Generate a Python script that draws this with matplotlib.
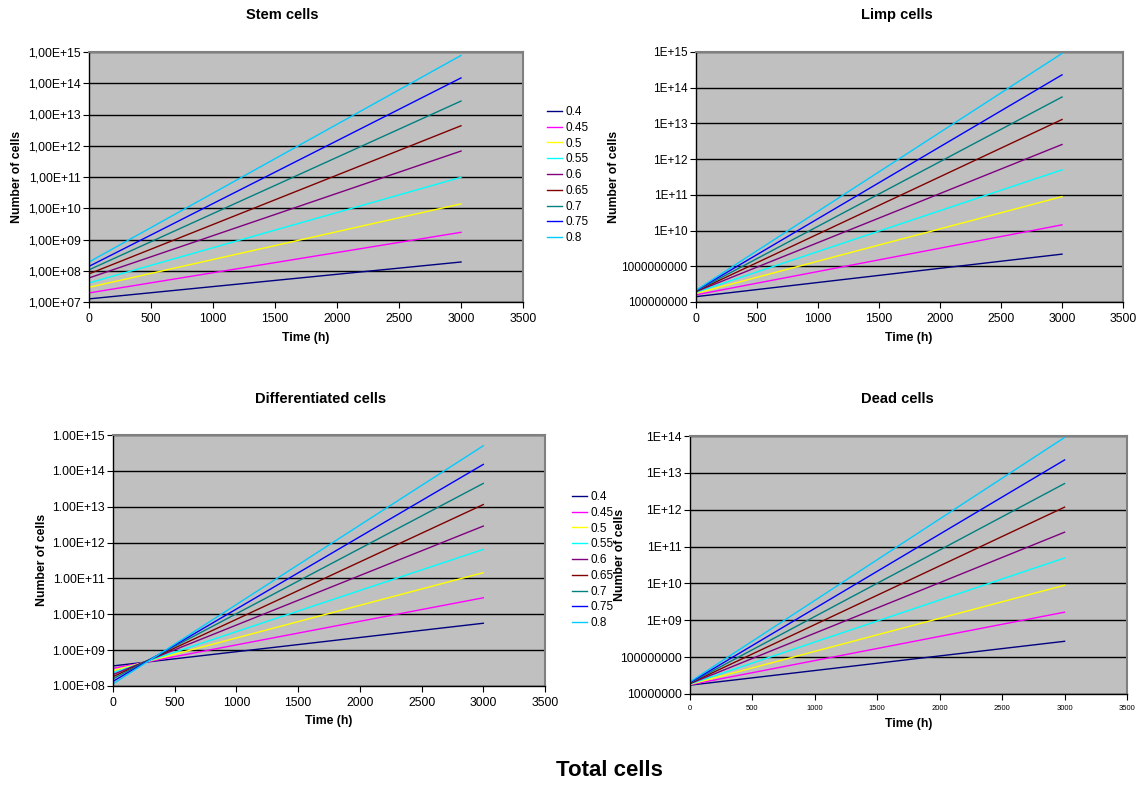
import numpy as np
import matplotlib
matplotlib.use("Agg")
import matplotlib.pyplot as plt
from matplotlib.ticker import FixedLocator, FixedFormatter, NullLocator

plt.rcParams['font.family'] = ['Liberation Sans', 'DejaVu Sans']

# simulation time (h)
time_h = [0, 3000]

rates = ["0.4", "0.45", "0.5", "0.55", "0.6", "0.65", "0.7", "0.75", "0.8"]
colors = ["#000080", "#FF00FF", "#FFFF00", "#00FFFF", "#800080",
          "#800000", "#008080", "#0000FF", "#00CCFF"]

# log10(number of cells) at t=0 and t=3000 for each rate
stem_start = [7.10, 7.29, 7.47, 7.61, 7.77, 7.90, 8.03, 8.14, 8.28]
stem_end = [8.28, 9.23, 10.14, 10.99, 11.83, 12.64, 13.43, 14.17, 14.89]

limp_start = [8.15, 8.20, 8.24, 8.27, 8.29, 8.30, 8.31, 8.32, 8.33]
limp_end = [9.34, 10.16, 10.95, 11.70, 12.41, 13.11, 13.74, 14.36, 14.96]

diff_start = [8.56, 8.49, 8.43, 8.37, 8.32, 8.26, 8.20, 8.13, 8.06]
diff_end = [9.75, 10.46, 11.16, 11.81, 12.46, 13.06, 13.65, 14.18, 14.70]

dead_start = [7.24, 7.25, 7.26, 7.27, 7.28, 7.29, 7.30, 7.31, 7.33]
dead_end = [8.43, 9.22, 9.95, 10.69, 11.39, 12.07, 12.71, 13.35, 13.96]

stem_ticks = ["1,00E+07", "1,00E+08", "1,00E+09", "1,00E+10", "1,00E+11",
              "1,00E+12", "1,00E+13", "1,00E+14", "1,00E+15"]
limp_ticks = ["100000000", "1000000000", "1E+10", "1E+11", "1E+12",
              "1E+13", "1E+14", "1E+15"]
diff_ticks = ["1.00E+08", "1.00E+09", "1.00E+10", "1.00E+11", "1.00E+12",
              "1.00E+13", "1.00E+14", "1.00E+15"]
dead_ticks = ["10000000", "100000000", "1E+09", "1E+10", "1E+11",
              "1E+12", "1E+13", "1E+14"]

W, H = 1140, 785
fig = plt.figure(figsize=(W / 100, H / 100), dpi=100)


def px_axes(l, t, r, b):
    return fig.add_axes([l / W, 1 - b / H, (r - l) / W, (b - t) / H])


def draw_panel(ax, starts, ends, lo, hi, ticklabels, yfs=8.8, xfs=8.8):
    for s, e, c, lab in zip(starts, ends, colors, rates):
        ax.plot(time_h, [10 ** s, 10 ** e], color=c, lw=1.0, label=lab)
    ax.set_yscale("log")
    ax.set_ylim(10 ** lo, 10 ** hi)
    ax.set_xlim(0, 3500)
    ax.set_xticks(range(0, 3501, 500))
    ax.yaxis.set_major_locator(FixedLocator([10 ** k for k in range(lo, hi + 1)]))
    ax.yaxis.set_major_formatter(FixedFormatter(ticklabels))
    ax.yaxis.set_minor_locator(NullLocator())
    ax.set_facecolor("#C0C0C0")
    ax.grid(axis="y", color="black", lw=1.0)
    ax.set_axisbelow(True)
    for side in ("top", "right"):
        ax.spines[side].set_color("#808080")
        ax.spines[side].set_linewidth(1.5)
    for side in ("left", "bottom"):
        ax.spines[side].set_color("black")
        ax.spines[side].set_linewidth(1.0)
    ax.tick_params(axis="y", direction="out", length=4, labelsize=yfs, pad=2)
    ax.tick_params(axis="x", direction="out", length=4, labelsize=xfs, pad=4)


stem_ax = px_axes(89, 52, 523, 302)
draw_panel(stem_ax, stem_start, stem_end, 7, 15, stem_ticks)

limp_ax = px_axes(696, 52, 1123, 302)
draw_panel(limp_ax, limp_start, limp_end, 8, 15, limp_ticks, yfs=8.5)

diff_ax = px_axes(113, 435, 545, 686)
draw_panel(diff_ax, diff_start, diff_end, 8, 15, diff_ticks)

dead_ax = px_axes(690, 436, 1127, 694)
draw_panel(dead_ax, dead_start, dead_end, 7, 14, dead_ticks, yfs=8.8, xfs=5.5)

# titles and axis labels placed on the figure
title_kw = dict(fontsize=10.5, fontweight="bold", ha="center", va="center")
fig.text(282 / W, 1 - 15 / H, "Stem cells", **title_kw)
fig.text(897 / W, 1 - 15 / H, "Limp cells", **title_kw)
fig.text(321 / W, 1 - 399 / H, "Differentiated cells", **title_kw)
fig.text(897 / W, 1 - 399 / H, "Dead cells", **title_kw)

lab_kw = dict(fontsize=8.8, fontweight="bold", ha="center", va="center")
fig.text(306 / W, 1 - 338 / H, "Time (h)", **lab_kw)
fig.text(909 / W, 1 - 338 / H, "Time (h)", **lab_kw)
fig.text(329 / W, 1 - 721 / H, "Time (h)", **lab_kw)
fig.text(909 / W, 1 - 724 / H, "Time (h)", **lab_kw)

fig.text(17 / W, 1 - 177 / H, "Number of cells", rotation=90, **lab_kw)
fig.text(614 / W, 1 - 177 / H, "Number of cells", rotation=90, **lab_kw)
fig.text(42 / W, 1 - 560 / H, "Number of cells", rotation=90, **lab_kw)
fig.text(620 / W, 1 - 555 / H, "Number of cells", rotation=90, **lab_kw)

fig.text(609 / W, 1 - 770 / H, "Total cells", fontsize=16, fontweight="bold",
         ha="center", va="center")

leg_kw = dict(loc="upper left", frameon=False, fontsize=8.5, handlelength=1.3,
              handletextpad=0.25, labelspacing=0.32, borderaxespad=0,
              borderpad=0)
h, l = stem_ax.get_legend_handles_labels()
fig.legend(h, l, bbox_to_anchor=(547 / W, 1 - 106 / H), **leg_kw)
h, l = diff_ax.get_legend_handles_labels()
fig.legend(h, l, bbox_to_anchor=(572 / W, 1 - 491 / H), **leg_kw)

fig.savefig("out.png", dpi=100)
